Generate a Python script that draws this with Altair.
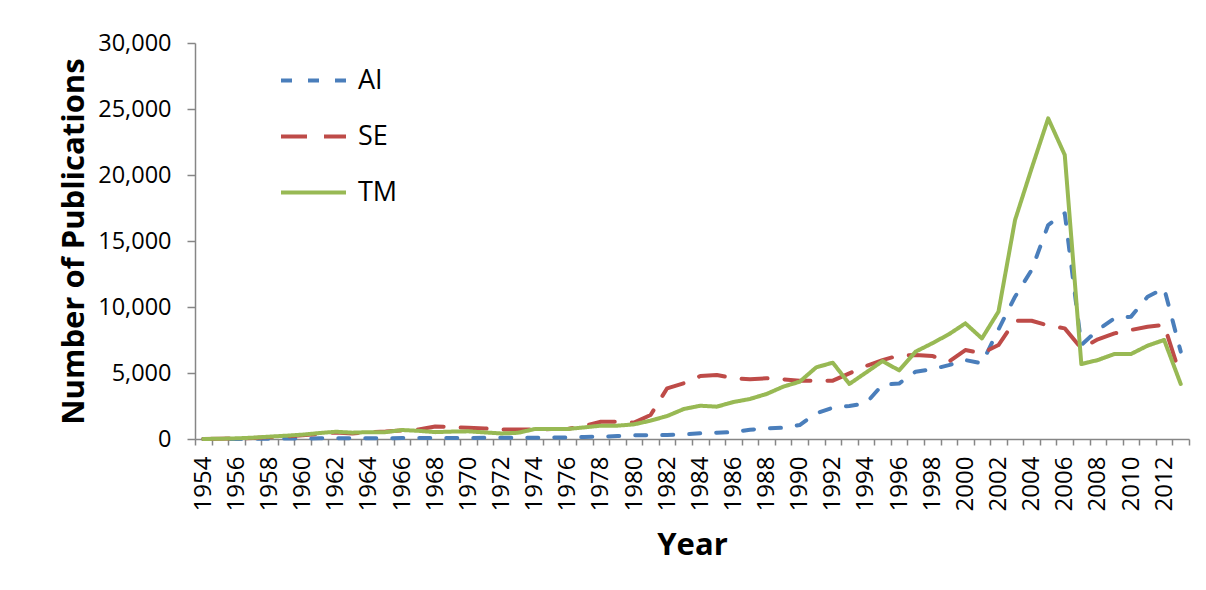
import altair as alt
import pandas as pd

years = list(range(1954, 2014))
series_names = ["AI", "SE", "TM"]
series_colors = ["#4A7EBB", "#BE4B48", "#98B954"]

ai = [0, 0, 0, 10, 20, 30, 40, 50, 50, 50,
      60, 60, 70, 70, 80, 80, 80, 90, 90, 100,
      100, 110, 120, 150, 180, 220, 280, 280, 300, 350,
      430, 480, 520, 700, 810, 850, 1060, 1950, 2370, 2500,
      2700, 4120, 4200, 5100, 5280, 5600, 5980, 5730, 8300, 10780,
      12800, 16210, 17100, 7120, 8260, 9140, 9270, 10780, 11420, 6620]
se = [0, 20, 40, 80, 150, 200, 280, 380, 500, 420,
      520, 560, 650, 720, 950, 900, 850, 800, 720, 720,
      720, 750, 760, 1000, 1310, 1310, 1240, 1820, 3840, 4220,
      4770, 4850, 4600, 4520, 4600, 4520, 4420, 4420, 4420, 4970,
      5530, 5980, 6330, 6360, 6290, 5860, 6740, 6490, 7120, 8960,
      8960, 8590, 8380, 6870, 7550, 8000, 8260, 8510, 8640, 4720]
tm = [0, 20, 50, 100, 180, 250, 330, 450, 550, 480,
      520, 520, 680, 620, 520, 560, 580, 500, 420, 470,
      750, 760, 760, 880, 1010, 1010, 1110, 1390, 1740, 2270,
      2520, 2450, 2800, 3030, 3410, 3960, 4340, 5430, 5780, 4170,
      5030, 5900, 5200, 6620, 7250, 7930, 8760, 7620, 9650, 16590,
      20500, 24290, 21520, 5680, 5980, 6440, 6440, 7070, 7500, 4170]

y_ticks = [0, 5000, 10000, 15000, 20000, 25000, 30000]
x_axis_values = [1953.5 + 0.5 * i for i in range(121)]

rows = []
for name, vals in zip(series_names, (ai, se, tm)):
    for yr, v in zip(years, vals):
        rows.append({"Year": yr, "Series": name, "Publications": v})
df = pd.DataFrame(rows)

FONT = "Open Sans"

legend = alt.Legend(
    title=None,
    orient="none",
    legendX=84,
    legendY=3,
    symbolType="stroke",
    symbolSize=4225,
    symbolStrokeWidth=4,
    labelFont=FONT,
    labelFontSize=27,
    labelColor="black",
    labelOffset=10,
    rowPadding=8,
    padding=0,
)

chart = alt.Chart(df).mark_line(
    strokeWidth=4, strokeCap="round", strokeJoin="round"
).encode(
    x=alt.X(
        "Year:Q",
        scale=alt.Scale(domain=[1953.5, 2013.5], nice=False, zero=False),
        axis=alt.Axis(
            values=x_axis_values,
            labelExpr="datum.value % 2 == 0 ? format(datum.value, 'd') : ''",
            tickOpacity={"condition": {"test": "datum.value % 1 != 0", "value": 1}, "value": 0},
            labelAngle=270,
            labelAlign="right",
            labelBaseline="middle",
            labelOverlap=False,
            labelFlush=False,
            labelFont=FONT,
            labelFontSize=24,
            labelColor="black",
            labelPadding=11,
            tickSize=6,
            tickColor="#868686",
            domainColor="#868686",
            tickWidth=1.5,
            domainWidth=1.5,
            grid=False,
            title="Year",
            titleFont=FONT,
            titleFontSize=31,
            titleFontWeight="bold",
            titleColor="black",
            titleX=497,
            titleY=115,
            titleAlign="center",
            titleBaseline="alphabetic",
        ),
    ),
    y=alt.Y(
        "Publications:Q",
        scale=alt.Scale(domain=[0, 30000], nice=False),
        axis=alt.Axis(
            values=y_ticks,
            format=",d",
            labelFont=FONT,
            labelFontSize=23.5,
            labelColor="black",
            labelPadding=16,
            tickSize=8,
            tickColor="#868686",
            domainColor="#868686",
            tickWidth=1.5,
            domainWidth=1.5,
            grid=False,
            title="Number of Publications",
            titleFont=FONT,
            titleFontSize=31,
            titleFontWeight="bold",
            titleColor="black",
            titleAngle=270,
            titleX=-112,
            titleY=198,
            titleAlign="center",
            titleBaseline="alphabetic",
        ),
    ),
    color=alt.Color(
        "Series:N",
        scale=alt.Scale(domain=series_names, range=series_colors),
        legend=legend,
    ),
    strokeDash=alt.StrokeDash(
        "Series:N",
        scale=alt.Scale(domain=series_names, range=[[11, 16], [26, 17], [1, 0]]),
        legend=legend,
    ),
).properties(
    width=994,
    height=396,
    padding={"left": 187, "top": 35, "right": 5, "bottom": 140},
    autosize="none",
).configure_view(stroke=None)

chart.save("out.html", embed_options={"renderer": "svg", "actions": False})
